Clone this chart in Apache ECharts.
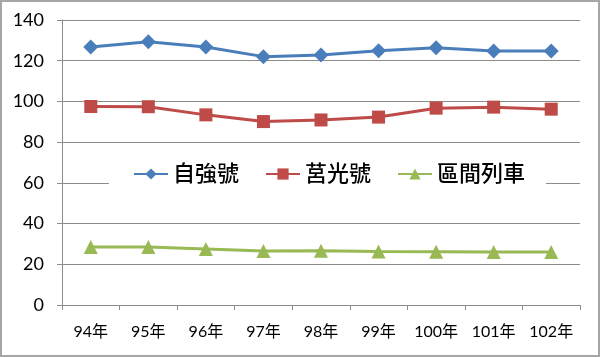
<!DOCTYPE html>
<html><head><meta charset="utf-8">
<script src="https://cdn.jsdelivr.net/npm/echarts@6/dist/echarts.min.js"></script>
<style>html,body{margin:0;padding:0;background:#fff}#c{width:600px;height:357px;box-sizing:border-box;border:2px solid #a6a6a6;}</style>
</head><body><div id="c"></div>
<script>
const categories = ['94年','95年','96年','97年','98年','99年','100年','101年','102年'];
const seriesNames = ['自強號','莒光號','區間列車'];
const tzeChiang = [126.7, 129.3, 126.7, 122.0, 122.8, 124.9, 126.4, 124.8, 124.8];
const chuKuang = [97.5, 97.4, 93.4, 90.1, 90.9, 92.3, 96.7, 97.2, 96.2];
const local = [28.5, 28.5, 27.5, 26.5, 26.6, 26.3, 26.2, 26.0, 26.0];
const yTicks = [0, 20, 40, 60, 80, 100, 120, 140];

const font = 'Lato, "Noto Sans CJK TC", sans-serif';
const chart = echarts.init(document.getElementById('c'), null, {renderer:'canvas'});
chart.setOption({
  animation:false,
  backgroundColor:'#fff',
  grid:{left:60, right:18, top:18, bottom:50, containLabel:false},
  legend:{
    data:seriesNames,
    left:107, top:155,
    backgroundColor:'#fff',
    padding:[6,21,6,24],
    itemGap:26, itemWidth:34, itemHeight:14,
    textStyle:{fontSize:22, color:'#000', fontFamily:font, fontWeight:500}
  },
  xAxis:{
    type:'category', data:categories, boundaryGap:true,
    axisLine:{lineStyle:{color:'#8c8c8c', width:1}},
    axisTick:{show:true, length:5, lineStyle:{color:'#8c8c8c'}},
    axisLabel:{fontSize:16, color:'#000', margin:19, fontFamily:font}
  },
  yAxis:{
    type:'value', min:yTicks[0], max:yTicks[yTicks.length-1], interval:20,
    axisLine:{show:true, lineStyle:{color:'#8c8c8c', width:1}},
    axisTick:{show:true, length:5, lineStyle:{color:'#8c8c8c'}},
    axisLabel:{fontSize:18, color:'#000', margin:18, fontFamily:font},
    splitLine:{lineStyle:{color:'#8c8c8c', width:1}}
  },
  series:[
    {name:seriesNames[0], type:'line', data:tzeChiang, symbol:'diamond', symbolSize:15,
     lineStyle:{color:'#4a7ebb', width:3}, itemStyle:{color:'#4a7ebb'}},
    {name:seriesNames[1], type:'line', data:chuKuang, symbol:'rect', symbolSize:13,
     lineStyle:{color:'#be4b48', width:3}, itemStyle:{color:'#be4b48'}},
    {name:seriesNames[2], type:'line', data:local, symbol:'triangle', symbolSize:14,
     lineStyle:{color:'#98b954', width:3}, itemStyle:{color:'#98b954'}}
  ]
});
</script></body></html>
